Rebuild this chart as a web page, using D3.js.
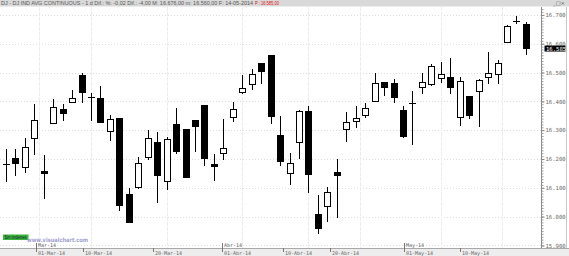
<!DOCTYPE html>
<html>
<head>
<meta charset="utf-8">
<script src="https://cdn.jsdelivr.net/npm/d3@7.9.0/dist/d3.min.js"></script>
<style>
  html, body { margin: 0; padding: 0; background: #fff; overflow: hidden; }
  svg { display: block; }
  .mono { font-family: "DejaVu Sans Mono", monospace; }
</style>
</head>
<body>
<svg id="chart" width="569" height="256"></svg>
<script>
// trading sessions, DJ IND AVG continuous, daily
const dates = [
  '2014-02-25', '2014-02-26', '2014-02-27', '2014-02-28', '2014-03-03', '2014-03-04', '2014-03-05', '2014-03-06',
  '2014-03-07', '2014-03-10', '2014-03-11', '2014-03-12', '2014-03-13', '2014-03-14', '2014-03-17', '2014-03-18',
  '2014-03-19', '2014-03-20', '2014-03-21', '2014-03-24', '2014-03-25', '2014-03-26', '2014-03-27', '2014-03-28',
  '2014-03-31', '2014-04-01', '2014-04-02', '2014-04-03', '2014-04-04', '2014-04-07', '2014-04-08', '2014-04-09',
  '2014-04-10', '2014-04-11', '2014-04-14', '2014-04-15', '2014-04-16', '2014-04-17', '2014-04-21', '2014-04-22',
  '2014-04-23', '2014-04-24', '2014-04-25', '2014-04-28', '2014-04-29', '2014-04-30', '2014-05-01', '2014-05-02',
  '2014-05-05', '2014-05-06', '2014-05-07', '2014-05-08', '2014-05-09', '2014-05-12', '2014-05-13', '2014-05-14'
];
const open = [
  16183, 16202, 16172, 16270, 16157, 16323, 16372, 16397, 16491, 16414, 16410, 16294, 16340, 16076, 16101, 16206,
  16258, 16122, 16320, 16302, 16334, 16387, 16181, 16218, 16345, 16429, 16459, 16532, 16558, 16282, 16148, 16258,
  16364, 16006, 16035, 16152, 16302, 16329, 16351, 16401, 16465, 16463, 16369, 16395, 16448, 16459, 16479, 16483,
  16343, 16418, 16435, 16483, 16493, 16605, 16680, 16666
];
const high = [
  16233, 16233, 16274, 16390, 16215, 16409, 16390, 16438, 16498, 16430, 16453, 16351, 16342, 16099, 16207, 16302,
  16293, 16277, 16378, 16304, 16336, 16389, 16218, 16340, 16398, 16491, 16511, 16534, 16562, 16349, 16221, 16370,
  16384, 16076, 16103, 16201, 16363, 16384, 16393, 16500, 16466, 16478, 16384, 16436, 16497, 16529, 16538, 16549,
  16483, 16419, 16479, 16572, 16544, 16665, 16695, 16676
];
const low = [
  16121, 16140, 16152, 16215, 16061, 16320, 16331, 16395, 16393, 16331, 16325, 16262, 16021, 15977, 16097, 16198,
  16047, 16093, 16218, 16134, 16223, 16177, 16122, 16198, 16329, 16424, 16439, 16459, 16320, 16177, 16111, 16201,
  16082, 15940, 15981, 15995, 16258, 16306, 16343, 16398, 16418, 16393, 16274, 16247, 16424, 16453, 16463, 16424,
  16314, 16340, 16312, 16459, 16459, 16604, 16668, 16560
];
const close = [
  16183, 16183, 16239, 16334, 16148, 16378, 16358, 16411, 16432, 16414, 16328, 16336, 16038, 15979, 16186, 16270,
  16142, 16268, 16227, 16136, 16314, 16201, 16174, 16235, 16372, 16444, 16494, 16505, 16349, 16192, 16186, 16366,
  16146, 15960, 16082, 16142, 16328, 16340, 16376, 16462, 16448, 16415, 16277, 16395, 16467, 16521, 16494, 16448,
  16469, 16352, 16474, 16497, 16532, 16660, 16680, 16585
];

const gridDates = ['2014-03-01', '2014-03-10', '2014-03-20', '2014-04-01', '2014-04-10', '2014-04-20', '2014-05-01', '2014-05-10'];
const dayLabels = ['01-Mar-14', '10-Mar-14', '20-Mar-14', '01-Abr-14', '10-Abr-14', '20-Abr-14', '01-May-14', '10-May-14'];
const monthDates = ['2014-03-01', '2014-04-01', '2014-05-01'];
const monthLabels = ['Mar-14', 'Abr-14', 'May-14'];
const priceTicks = [15900, 16000, 16100, 16200, 16300, 16400, 16500, 16600, 16700];

const headerText = 'DJ - DJ IND AVG CONTINUOUS -  1 d Dif.: %: -0,02 Dif.: -4,00 M: 16.676,00 m: 16.560,00 F: 14-05-2014';
const lastText = 'P : 16.585,00';

const W = 569, H = 256;
const plotRight = 541, plotTop = 7, plotBottom = 248;

const svg = d3.select('#chart');

let x = d3.scaleLinear().domain([-0.63, 56.6]).range([0, plotRight]);
let y = d3.scaleLinear().domain([15891, 16727.5]).range([plotBottom, plotTop]);
// the date strip under the chart runs on a shorter ruler than the candles
const axisX = (p) => x(p) * 0.916;

// calendar date -> session position (between sessions when the day is not traded)
function datePos(s) {
    const i = dates.findIndex(d => d >= s);
    return dates[i] === s ? i : i - 0.5;
}
const fmtPrice = (v) => d3.format(',')(v).replace(',', '.');

// header strip
svg.append('rect').attr('x', 0).attr('y', 0).attr('width', W).attr('height', 6.5).attr('fill', '#d9d9d9');
svg.append('text')
    .attr('x', 1).attr('y', 5)
    .attr('font-family', 'Liberation Sans, Arial, sans-serif').attr('font-size', 5.2)
    .attr('fill', '#555')
    .attr('textLength', 252).attr('lengthAdjust', 'spacingAndGlyphs')
    .text(headerText);
svg.append('text')
    .attr('x', 255).attr('y', 5)
    .attr('font-family', 'Liberation Sans, Arial, sans-serif').attr('font-size', 5.2)
    .attr('fill', '#e01010')
    .attr('textLength', 24).attr('lengthAdjust', 'spacingAndGlyphs')
    .text(lastText);
svg.append('text')
    .attr('x', 553).attr('y', 5)
    .attr('font-family', 'DejaVu Sans, sans-serif').attr('font-size', 5)
    .attr('fill', '#555')
    .attr('textLength', 12).attr('lengthAdjust', 'spacingAndGlyphs')
    .text('_□×');

// grid
svg.append('g')
    .selectAll('line')
    .data(priceTicks)
    .join('line')
    .attr('x1', 0).attr('x2', plotRight)
    .attr('y1', d => Math.round(y(d)) + 0.5).attr('y2', d => Math.round(y(d)) + 0.5)
    .attr('stroke', '#dcdcdc').attr('stroke-dasharray', '1,2');

svg.append('g')
    .selectAll('line')
    .data(gridDates)
    .join('line')
    .attr('x1', d => Math.round(x(datePos(d))) + 0.5).attr('x2', d => Math.round(x(datePos(d))) + 0.5)
    .attr('y1', plotTop).attr('y2', plotBottom)
    .attr('stroke', '#ececec').attr('stroke-dasharray', '4,1');

// candles
const idx = d3.range(dates.length);
const bw = 6;
const candles = svg.append('g').attr('shape-rendering', 'crispEdges');

candles.selectAll('line.wick')
    .data(idx)
    .join('line')
    .attr('class', 'wick')
    .attr('x1', i => Math.round(x(i)) + 0.5).attr('x2', i => Math.round(x(i)) + 0.5)
    .attr('y1', i => y(high[i])).attr('y2', i => y(low[i]))
    .attr('stroke', '#000');

candles.selectAll('rect.body')
    .data(idx.filter(i => open[i] !== close[i]))
    .join('rect')
    .attr('class', 'body')
    .attr('x', i => Math.round(x(i)) - bw / 2 + 0.5)
    .attr('y', i => y(Math.max(open[i], close[i])))
    .attr('width', bw)
    .attr('height', i => Math.max(1, Math.abs(y(open[i]) - y(close[i]))))
    .attr('fill', i => close[i] > open[i] ? '#fff' : '#000')
    .attr('stroke', '#000');

candles.selectAll('line.doji')
    .data(idx.filter(i => open[i] === close[i]))
    .join('line')
    .attr('class', 'doji')
    .attr('x1', i => Math.round(x(i)) - bw / 2).attr('x2', i => Math.round(x(i)) + bw / 2 + 1)
    .attr('y1', i => Math.round(y(close[i])) + 0.5).attr('y2', i => Math.round(y(close[i])) + 0.5)
    .attr('stroke', '#000');

// right price axis
svg.append('line')
    .attr('x1', plotRight + 0.5).attr('x2', plotRight + 0.5).attr('y1', plotTop).attr('y2', H)
    .attr('stroke', '#8a8a8a');
svg.append('line')
    .attr('x1', 566.5).attr('x2', 566.5).attr('y1', plotTop).attr('y2', H)
    .attr('stroke', '#c8c8c8');

svg.append('g')
    .attr('transform', `translate(${plotRight + 0.5},0)`)
    .call(d3.axisRight(y).tickValues(d3.range(15900, 16721, 10)).tickSize(2).tickFormat(''))
    .call(g => g.select('.domain').remove())
    .call(g => g.selectAll('line').attr('stroke', '#9a9a9a'));

svg.append('g')
    .attr('transform', `translate(${plotRight + 0.5},0)`)
    .call(d3.axisRight(y).tickValues(priceTicks).tickSize(3).tickPadding(1).tickFormat(fmtPrice))
    .call(g => g.select('.domain').remove())
    .call(g => g.selectAll('line').attr('stroke', '#8a8a8a'))
    .call(g => g.selectAll('text')
        .attr('class', 'mono')
        .attr('font-size', 5.6)
        .attr('fill', '#666'));

// last price box, drawn over the nearby axis label as in the terminal
const lastY = y(close[close.length - 1]);
svg.append('rect')
    .attr('x', 544.5).attr('y', lastY - 2.5).attr('width', 21).attr('height', 6)
    .attr('fill', '#000');
svg.append('text')
    .attr('class', 'mono')
    .attr('x', 546).attr('y', lastY + 2.5)
    .attr('font-size', 5.6).attr('fill', '#fff')
    .text(fmtPrice(close[close.length - 1]));

// bottom date strip
svg.append('rect').attr('x', 0).attr('y', plotBottom).attr('width', W).attr('height', H - plotBottom).attr('fill', '#ededed');
svg.append('line')
    .attr('x1', 0).attr('x2', W).attr('y1', plotBottom + 0.5).attr('y2', plotBottom + 0.5)
    .attr('stroke', '#a8a8a8');

const dayAxis = svg.append('g');
dayLabels.forEach((label, k) => {
    const px = Math.round(axisX(datePos(gridDates[k]))) + 0.5;
    dayAxis.append('line')
        .attr('x1', px).attr('x2', px).attr('y1', plotBottom).attr('y2', plotBottom + 4)
        .attr('stroke', '#777');
    dayAxis.append('text')
        .attr('class', 'mono')
        .attr('x', px + 1.5).attr('y', 254.5)
        .attr('font-size', 5).attr('fill', '#666')
        .text(label);
});

monthLabels.forEach((label, k) => {
    const px = Math.round(axisX(datePos(monthDates[k]))) + 0.5;
    dayAxis.append('line')
        .attr('x1', px).attr('x2', px).attr('y1', plotBottom - 5).attr('y2', plotBottom)
        .attr('stroke', '#777');
    dayAxis.append('text')
        .attr('class', 'mono')
        .attr('x', px + 1.5).attr('y', 247.2)
        .attr('font-size', 5).attr('fill', '#666')
        .text(label);
});

// order status tag and watermark
svg.append('rect')
    .attr('x', 3).attr('y', 234.5).attr('width', 25.5).attr('height', 5.5)
    .attr('fill', '#3bb43b');
svg.append('text')
    .attr('x', 4.5).attr('y', 239)
    .attr('font-family', 'Liberation Sans, Arial, sans-serif').attr('font-size', 4.5)
    .attr('fill', '#123')
    .attr('textLength', 22).attr('lengthAdjust', 'spacingAndGlyphs')
    .text('Sin órdenes');
svg.append('text')
    .attr('x', 27).attr('y', 241.6)
    .attr('font-family', 'DejaVu Sans, sans-serif').attr('font-size', 5.8).attr('font-weight', 'bold')
    .attr('fill', '#8e8ec8').attr('opacity', 0.85)
    .attr('textLength', 61).attr('lengthAdjust', 'spacingAndGlyphs')
    .text('www.visualchart.com');
</script>
</body>
</html>
